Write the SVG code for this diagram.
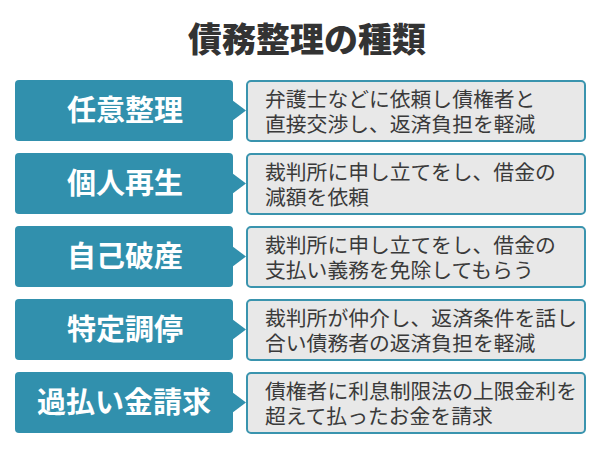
<svg xmlns="http://www.w3.org/2000/svg" width="600" height="450" viewBox="0 0 600 450">
<style>
.t{font-family:"Noto Sans CJK JP","Noto Sans CJK SC",sans-serif;}
.title{font-size:34px;font-weight:900;fill:#333;}
.lab{font-size:29px;font-weight:bold;fill:#fff;text-anchor:middle;}
.desc{font-size:20.8px;fill:#3a3a3a;}
.bl{fill:#3190ad;}
.gr{fill:#e8e8e8;stroke:#3a94ae;stroke-width:2;}
</style>
<rect width="600" height="450" fill="#fff"/>
<text class="t title" x="307" y="52" text-anchor="middle">債務整理の種類</text>
<g id="row1">
<rect class="bl" x="15" y="80" width="218" height="61" rx="4"/>
<path class="bl" d="M232,100 L246,110.5 L232,121 Z"/>
<text class="t lab" x="125" y="121">任意整理</text>
<rect class="gr" x="247" y="81" width="338" height="60" rx="4"/>
<text class="t desc" x="265" y="107">弁護士などに依頼し債権者と<tspan x="265" dy="25">直接交渉し、返済負担を軽減</tspan></text>
</g>
<g id="row2">
<rect class="bl" x="15" y="153" width="218" height="61" rx="4"/>
<path class="bl" d="M232,173 L246,183.5 L232,194 Z"/>
<text class="t lab" x="125" y="194">個人再生</text>
<rect class="gr" x="247" y="154" width="338" height="60" rx="4"/>
<text class="t desc" x="265" y="180">裁判所に申し立てをし、借金の<tspan x="265" dy="25">減額を依頼</tspan></text>
</g>
<g id="row3">
<rect class="bl" x="15" y="226" width="218" height="61" rx="4"/>
<path class="bl" d="M232,246 L246,256.5 L232,267 Z"/>
<text class="t lab" x="125" y="267">自己破産</text>
<rect class="gr" x="247" y="227" width="338" height="60" rx="4"/>
<text class="t desc" x="265" y="253">裁判所に申し立てをし、借金の<tspan x="265" dy="25">支払い義務を免除してもらう</tspan></text>
</g>
<g id="row4">
<rect class="bl" x="15" y="299" width="218" height="61" rx="4"/>
<path class="bl" d="M232,319 L246,329.5 L232,340 Z"/>
<text class="t lab" x="125" y="340">特定調停</text>
<rect class="gr" x="247" y="300" width="338" height="60" rx="4"/>
<text class="t desc" x="265" y="326">裁判所が仲介し、返済条件を話し<tspan x="265" dy="25">合い債務者の返済負担を軽減</tspan></text>
</g>
<g id="row5">
<rect class="bl" x="15" y="372" width="218" height="61" rx="4"/>
<path class="bl" d="M232,392 L246,402.5 L232,413 Z"/>
<text class="t lab" x="124" y="413">過払い金請求</text>
<rect class="gr" x="247" y="373" width="338" height="60" rx="4"/>
<text class="t desc" x="265" y="399">債権者に利息制限法の上限金利を<tspan x="265" dy="25">超えて払ったお金を請求</tspan></text>
</g>
</svg>
